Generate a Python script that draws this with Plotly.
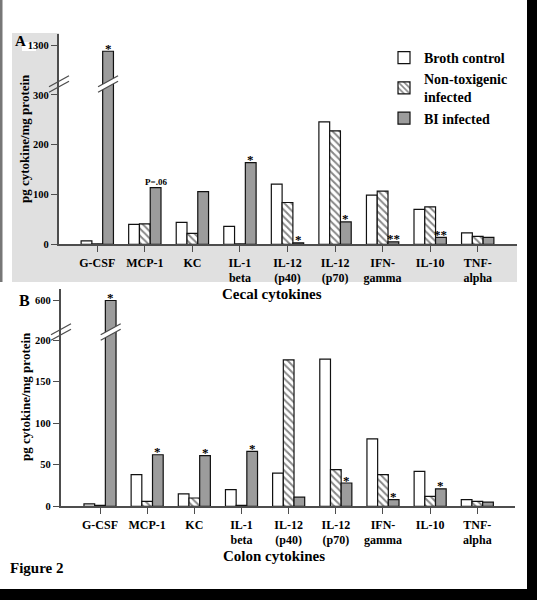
import plotly.graph_objects as go

# ---------------- data ----------------
categories = ["G-CSF", "MCP-1", "KC", "IL-1<br>beta", "IL-12<br>(p40)", "IL-12<br>(p70)",
              "IFN-<br>gamma", "IL-10", "TNF-<br>alpha"]
series_names = ["Broth control", "Non-toxigenic<br>infected", "BI infected"]

cecal_broth = [7, 40, 44, 36, 121, 246, 99, 70, 23]
cecal_nontox = [1, 41, 22, 1, 84, 228, 107, 75, 16]
cecal_bi = [1288, 114, 106, 164, 3, 45, 5, 14, 14]
cecal_marks = ["*", "P=.06", "", "*", "*", "*", "**", "**", ""]

colon_broth = [3, 38, 15, 20, 40, 177, 81, 42, 8]
colon_nontox = [1, 6, 10, 1, 176, 44, 38, 12, 6]
colon_bi = [600, 62, 61, 66, 11, 28, 8, 21, 5]
colon_marks = ["*", "*", "*", "*", "", "*", "*", "*", ""]

cecal_ticks_lower = [0, 100, 200, 300]
cecal_ticks_upper = [1300]
colon_ticks_lower = [0, 50, 100, 150, 200]
colon_ticks_upper = [600]

# ---------------- styling / layout constants ----------------
W, H = 537, 600
FONT = "Liberation Serif"
AXC = "#4d4d4d"
OUT = "#111111"
GREY_FILL = "#9c9c9c"
BG_GREY = "#e0e0e0"
BARGAP = 0.32


def px(x):
    return x / W


def py(y):
    return 1 - y / H


xpos = list(range(len(categories)))

# panel geometry (pixels)
A = dict(x0=59, x1=517, xr=[-0.805, 8.826], zero=244.3, brk=84, top=34,
         scale=0.4977, up_ref=1300, up_ref_px=45.3)
B = dict(x0=61, x1=515, xr=[-0.827, 8.799], zero=506.3, brk=332, top=289,
         scale=0.8315, up_ref=600, up_ref_px=300.5)

for P in (A, B):
    P["lo_range"] = [0, (P["zero"] - P["brk"]) / P["scale"]]
    P["hi_range"] = [P["up_ref"] - (P["brk"] - P["up_ref_px"]) / P["scale"],
                     P["up_ref"] + (P["up_ref_px"] - P["top"]) / P["scale"]]

fig = go.Figure()

styles = [
    dict(color="white", line=dict(color=OUT, width=1.2)),
    dict(color="white", line=dict(color=OUT, width=1.2),
         pattern=dict(shape="\\", fgcolor="#111111", bgcolor="white", size=5, solidity=0.4)),
    dict(color=GREY_FILL, line=dict(color=OUT, width=1.2)),
]


def add_panel(series, xa, ylo, yhi, legend):
    for i, vals in enumerate(series):
        for yax, sl in ((ylo, legend), (yhi, False)):
            fig.add_trace(go.Bar(
                x=xpos, y=vals, name=series_names[i], xaxis=xa, yaxis=yax,
                marker=styles[i], showlegend=sl, legendgroup=str(i),
                hoverinfo="skip"))


add_panel([cecal_broth, cecal_nontox, cecal_bi], "x", "y", "y2", True)
add_panel([colon_broth, colon_nontox, colon_bi], "x2", "y3", "y4", False)

tickfont_x = dict(family=FONT, size=12, color="black", weight="bold")
tickfont_y = dict(family=FONT, size=10.5, color="black", weight="bold")


def xaxis(P, anchor):
    return dict(domain=[px(P["x0"]), px(P["x1"])], range=P["xr"], anchor=anchor,
                tickmode="array", tickvals=xpos, ticktext=categories,
                showline=True, linecolor=AXC, linewidth=2.2, ticks="outside",
                ticklen=6, tickwidth=1.3, tickcolor=AXC, tickfont=tickfont_x,
                showgrid=False, zeroline=False, automargin=False, fixedrange=True)


def yaxis(P, anchor, lo, ticks):
    if lo:
        dom = [py(P["zero"]), py(P["brk"])]
        rng = P["lo_range"]
    else:
        dom = [py(P["brk"]), py(P["top"])]
        rng = P["hi_range"]
    return dict(domain=dom, range=rng, anchor=anchor, tickmode="array", tickvals=ticks,
                showline=True, linecolor=AXC, linewidth=2.2, ticks="outside",
                ticklen=6, tickwidth=1.3, tickcolor=AXC, tickfont=tickfont_y,
                showgrid=False, zeroline=False, automargin=False, fixedrange=True)


annotations = []


def star_annots(P, xa, ylo, yhi, bi, marks):
    w = (1 - BARGAP) / 3
    for i, (v, m) in enumerate(zip(bi, marks)):
        if not m:
            continue
        yref = ylo if v <= P["lo_range"][1] else yhi
        small = m.startswith("P")
        annotations.append(dict(
            x=xpos[i] + w, y=v, xref=xa, yref=yref, text=m, showarrow=False,
            yanchor="middle", xanchor="center", yshift=6 if small else 3,
            font=dict(family=FONT, size=9 if small else 13, color="#000000", weight="bold")))


star_annots(A, "x", "y", "y2", cecal_bi, cecal_marks)
star_annots(B, "x2", "y3", "y4", colon_bi, colon_marks)


def text_annot(x, y, t, size, xanchor="center", angle=0):
    annotations.append(dict(x=px(x), y=py(y), xref="paper", yref="paper", text=t,
                            showarrow=False, xanchor=xanchor, yanchor="middle",
                            textangle=angle,
                            font=dict(family=FONT, size=size, color="black", weight="bold")))


text_annot(13, 41, "A", 15, "left")
text_annot(17, 300, "B", 16, "left")
text_annot(24, 139, "pg cytokine/mg protein", 13, angle=-90)
text_annot(25, 397, "pg cytokine/mg protein", 13, angle=-90)
text_annot(272, 294, "Cecal cytokines", 15)
text_annot(274, 556, "Colon cytokines", 15)
text_annot(8, 568, "Figure 2", 15, "left")

shapes = []


def rect(x0, y0, x1, y1, color, layer="below"):
    shapes.append(dict(type="rect", xref="paper", yref="paper", x0=px(x0), x1=px(x1),
                       y0=py(y1), y1=py(y0), fillcolor=color, line=dict(width=0),
                       layer=layer))


# panel A grey frame (left strip + bottom band)
rect(12, 33, 59, 282, BG_GREY)
rect(59, 244.3, 517, 282, BG_GREY)
rect(22, 42, 36, 51, "white")
# page edges
rect(0, 0, 2.5, 282, "#777777", "above")
rect(527, 0, 537, 600, "black", "above")
rect(0, 589, 537, 600, "black", "above")


def bar_px(P, cat):
    w = (1 - BARGAP) / 3
    xv = cat + w
    r0, r1 = P["xr"]
    return P["x0"] + (xv - r0) / (r1 - r0) * (P["x1"] - P["x0"])


def break_marks(cx, cy, fill_gap):
    dx, dy, sep = 10, 5.5, 2.8
    if fill_gap:
        path = "M{},{} L{},{} L{},{} L{},{} Z".format(
            px(cx - dx), py(cy + sep + dy), px(cx + dx), py(cy + sep - dy),
            px(cx + dx), py(cy - sep - dy), px(cx - dx), py(cy - sep + dy))
        shapes.append(dict(type="path", xref="paper", yref="paper", path=path,
                           fillcolor="white", line=dict(width=0), layer="above"))
    for s in (-sep, sep):
        shapes.append(dict(type="line", xref="paper", yref="paper",
                           x0=px(cx - dx), y0=py(cy + s + dy), x1=px(cx + dx), y1=py(cy + s - dy),
                           line=dict(color=AXC, width=1.3), layer="above"))


for P in (A, B):
    break_marks(P["x0"], P["brk"], False)
    break_marks(bar_px(P, 0), P["brk"], True)

fig.update_layout(
    width=W, height=H, autosize=False,
    margin=dict(l=0, r=0, t=0, b=0),
    paper_bgcolor="white", plot_bgcolor="white",
    barmode="group", bargap=BARGAP, bargroupgap=0,
    xaxis=xaxis(A, "y"), yaxis=yaxis(A, "x", True, cecal_ticks_lower),
    yaxis2=yaxis(A, "x", False, cecal_ticks_upper),
    xaxis2=xaxis(B, "y3"), yaxis3=yaxis(B, "x2", True, colon_ticks_lower),
    yaxis4=yaxis(B, "x2", False, colon_ticks_upper),
    legend=dict(x=px(384), y=py(42), xanchor="left", yanchor="top",
                bgcolor="rgba(0,0,0,0)", tracegroupgap=0,
                font=dict(family=FONT, size=14, color="black", weight="bold")),
    annotations=annotations, shapes=shapes, showlegend=True,
)

fig.write_html("out.html", config={"displayModeBar": False},
               post_script="document.body.style.margin='0px';")
